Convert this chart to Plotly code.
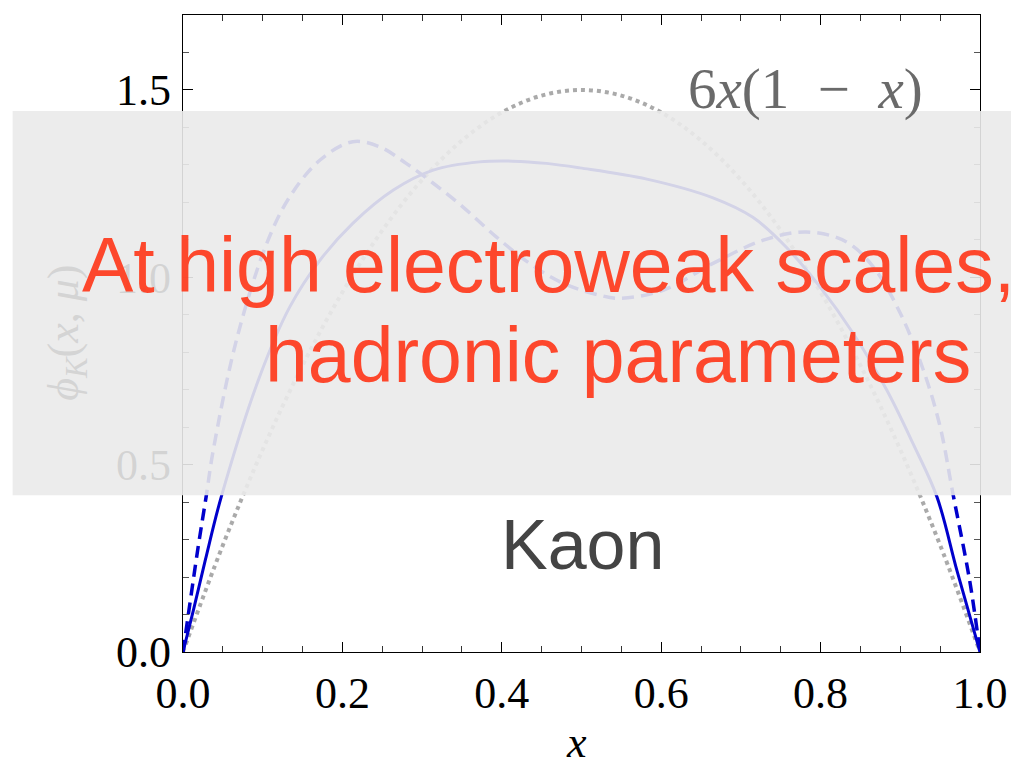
import plotly.graph_objects as go

# ---------------- data ----------------
x_asym = [0.0, 0.05, 0.1, 0.15, 0.2, 0.25, 0.3, 0.35, 0.4, 0.45, 0.5,
          0.55, 0.6, 0.65, 0.7, 0.75, 0.8, 0.85, 0.9, 0.95, 1.0]
y_asym = [0.0, 0.285, 0.54, 0.765, 0.96, 1.125, 1.26, 1.365, 1.44, 1.485, 1.5,
          1.485, 1.44, 1.365, 1.26, 1.125, 0.96, 0.765, 0.54, 0.285, 0.0]

x_solid = [0.0, 0.013, 0.029, 0.048, 0.096, 0.134, 0.172, 0.213, 0.264, 0.314,
           0.372, 0.414, 0.456, 0.498, 0.582, 0.665, 0.715, 0.757, 0.799,
           0.841, 0.883, 0.916, 0.946, 0.971, 1.0]
y_solid = [0.0, 0.111, 0.254, 0.414, 0.734, 0.921, 1.046, 1.144, 1.233, 1.286,
           1.308, 1.310, 1.304, 1.292, 1.262, 1.212, 1.160, 1.080, 0.975,
           0.850, 0.699, 0.556, 0.414, 0.218, 0.0]

x_dash = [0.0, 0.019, 0.029, 0.038, 0.067, 0.105, 0.134, 0.172, 0.213, 0.247,
          0.280, 0.314, 0.351, 0.393, 0.435, 0.477, 0.523, 0.548, 0.603, 0.665,
          0.728, 0.782, 0.832, 0.866, 0.900, 0.929, 0.950, 0.966, 0.987, 1.0]
y_dash = [0.0, 0.280, 0.414, 0.539, 0.832, 1.090, 1.215, 1.313, 1.362, 1.348,
          1.304, 1.251, 1.188, 1.108, 1.037, 0.984, 0.952, 0.944, 0.966, 1.037,
          1.099, 1.121, 1.095, 1.028, 0.904, 0.752, 0.601, 0.423, 0.191, 0.0]

x_ticks = [0.0, 0.2, 0.4, 0.6, 0.8, 1.0]
x_tick_labels = ["0.0", "0.2", "0.4", "0.6", "0.8", "1.0"]
y_ticks = [0.0, 0.5, 1.0, 1.5]
y_tick_labels = ["0.0", "0.5", "1.0", "1.5"]

title_line1 = "At high electroweak scales,"
title_line2 = "hadronic parameters"
particle = "Kaon"
asym_label = "6<i>x</i>(1\u2002−\u2002<i>x</i>)"
x_title = "<i>x</i>"
y_title = "<i>ϕ</i><sub><i>K</i></sub>(<i>x</i>, <i>μ</i>)"

# ---------------- layout geometry (pixels) ----------------
W, H = 1011, 762
L, R, T, B = 183.3, 980.0, 15.0, 651.7
PW, PH = R - L, B - T


def px(xp):
    return (xp - L) / PW


def py(yp):
    return (B - yp) / PH


SERIF = "Liberation Serif"
SANS = "Liberation Sans"

fig = go.Figure()
fig.add_trace(go.Scatter(x=x_asym, y=y_asym, mode="lines", line_shape="spline",
                         line=dict(color="#aaaaaa", width=4, dash="4px,4px"),
                         hoverinfo="skip", showlegend=False))
fig.add_trace(go.Scatter(x=x_solid, y=y_solid, mode="lines", line_shape="spline",
                         line=dict(color="#0000cc", width=3),
                         hoverinfo="skip", showlegend=False))
fig.add_trace(go.Scatter(x=x_dash, y=y_dash, mode="lines", line_shape="spline",
                         line=dict(color="#0000cc", width=3.5, dash="12px,7px"),
                         hoverinfo="skip", showlegend=False))

axis_common = dict(showline=True, linecolor="black", linewidth=1.3, mirror="allticks",
                   ticks="inside", ticklen=10, tickwidth=1.2, tickcolor="black",
                   showgrid=False, zeroline=False, automargin=False,
                   tickfont=dict(family=SERIF, size=44, color="black"))

fig.update_xaxes(range=[0, 1], tickvals=x_ticks, ticktext=x_tick_labels,
                 minor=dict(dtick=0.05, tick0=0, ticks="inside", ticklen=6,
                            tickcolor="#333333", tickwidth=1, showgrid=False),
                 ticklabelstandoff=2, **axis_common)
fig.update_yaxes(range=[0, 1.7], tickvals=y_ticks, ticktext=y_tick_labels,
                 minor=dict(dtick=0.1, tick0=0, ticks="inside", ticklen=6,
                            tickcolor="#555555", tickwidth=1, showgrid=False),
                 ticklabelstandoff=2, **axis_common)

annotations = [
    dict(text=asym_label, x=px(806), y=py(89), xref="paper", yref="paper",
         showarrow=False, xanchor="center", yanchor="middle",
         font=dict(family=SERIF, size=57, color="#6a6a6a")),
    dict(text=y_title, x=px(66), y=py(333), xref="paper", yref="paper",
         showarrow=False, textangle=-90, xanchor="center", yanchor="middle",
         font=dict(family=SERIF, size=44, color="#d4d4d4")),
    dict(text=x_title, x=px(577), y=py(742), xref="paper", yref="paper",
         showarrow=False, xanchor="center", yanchor="middle",
         font=dict(family=SERIF, size=44, color="black")),
    dict(text=title_line1, x=px(80), y=py(265), xref="paper", yref="paper",
         showarrow=False, xanchor="left", yanchor="middle", opacity=0.93,
         font=dict(family=SANS, size=77, color="#ff3b1e")),
    dict(text=title_line2, x=px(263), y=py(355), xref="paper", yref="paper",
         showarrow=False, xanchor="left", yanchor="middle", opacity=0.93,
         font=dict(family=SANS, size=77, color="#ff3b1e")),
    dict(text=particle, x=px(583), y=py(545), xref="paper", yref="paper",
         showarrow=False, xanchor="center", yanchor="middle",
         font=dict(family=SANS, size=70, color="#444444")),
]

shapes = [
    dict(type="rect", xref="paper", yref="paper", layer="above",
         x0=px(13), x1=px(1030), y0=py(495), y1=py(111),
         fillcolor="rgba(234,234,234,0.9)", line=dict(width=0)),
]

fig.update_layout(width=W, height=H, plot_bgcolor="white", paper_bgcolor="white",
                  margin=dict(l=L, r=W - R, t=T, b=H - B, pad=0, autoexpand=False),
                  annotations=annotations, shapes=shapes, showlegend=False)

fig.write_html("out.html")
